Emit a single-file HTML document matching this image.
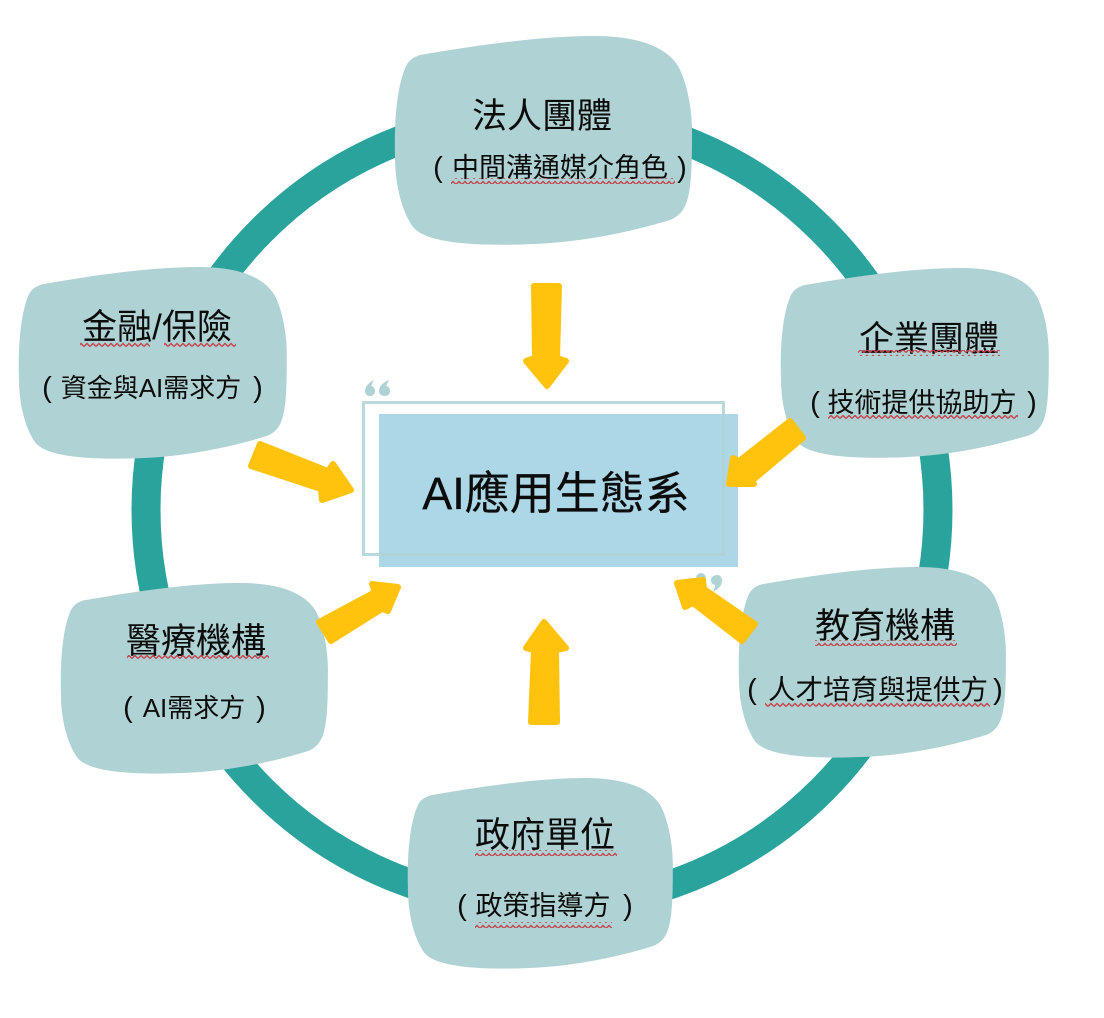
<!DOCTYPE html>
<html lang="zh-Hant">
<head>
<meta charset="utf-8">
<title>AI應用生態系</title>
<style>
html,body{margin:0;padding:0;background:#fff;width:1104px;height:1018px;overflow:hidden}
svg{display:block}
text{font-family:"Liberation Sans","Noto Sans CJK TC","Noto Sans CJK JP",sans-serif;fill:#0c0c0c;text-anchor:middle}
.t{font-size:35px}
.s{font-size:27px}
.p{font-size:29px}
.c{font-size:45px;stroke:#0c0c0c;stroke-width:.25}
.a{fill:#FFC30E;stroke:#FFC30E;stroke-width:6;stroke-linejoin:round}
</style>
</head>
<body>
<svg width="1104" height="1018" viewBox="0 0 1104 1018" xmlns="http://www.w3.org/2000/svg">
<defs>
<path id="b" d="M26,19 C90,8 150,0 200,0 C240,0 271,9 284,30 C292,44 298,70 298,95 C298,120 298,150 293,165 C290,175 284,181 276,184 C240,195 190,206 140,208 C70,211 30,205 19,191 C8,175 1,150 1,120 C0,85 3,50 12,30 C15,24 20,21 26,19 Z"/>
<pattern id="w" width="6" height="6" patternUnits="userSpaceOnUse">
<path d="M0,4.500 L3,1.500 L6,4.500" fill="none" stroke="#c4434c" stroke-width="1.400"/>
</pattern>
</defs>
<rect width="1104" height="1018" fill="#fff"/>
<circle cx="542" cy="510" r="396" fill="none" stroke="#2AA39C" stroke-width="29"/>

<g fill="#AFD2D4">
<use href="#b" transform="translate(394,36)"/>
<use href="#b" transform="translate(780,268) scale(.902,.909)"/>
<use href="#b" transform="translate(18,267) scale(.902,.918)"/>
<use href="#b" transform="translate(60,583) scale(.899,.913)"/>
<use href="#b" transform="translate(738,567) scale(.899,.913)"/>
<use href="#b" transform="translate(407,778) scale(.892,.913)"/>
</g>

<g fill="#AFD2D4">
<path d="M374,380 C370,382 365,386 365,391 C365,394 367,396 370,396 C373,396 375,394 375,391 C375,388 373,386 371,386 C372,384 373,382 374,380 Z"/>
<path d="M389,380 C384,382 379,386 379,391 C379,394 381,396 385,396 C388,396 390,394 390,391 C390,388 388,386 386,386 C387,384 388,382 389,380 Z"/>
<path d="M713,592 C717,590 722,586 722,581 C722,577 720,575 717,575 C714,575 711,577 711,580 C711,583 713,585 715,585 C715,587 714,590 713,592 Z"/>
<circle cx="701" cy="578" r="5"/>
</g>
<rect x="379" y="414" width="359" height="153" fill="#ABD7E6"/>
<rect x="363.500" y="402.500" width="360" height="152" fill="none" stroke="#AFD2D4" stroke-width="3" opacity=".85"/>

<polygon class="a" points="534,286 559,286 557,358 566,361 547,386 526,361 535,358"/>
<polygon class="a" points="544,622 566,648 556,650 557,722 531,722 534,650 526,648"/>
<polygon class="a" points="260,444 251,466 321,489 322,500 351,490 333,464 328,471"/>
<polygon class="a" points="790,421 803,438 753,480 754,484 729,484 733,458 739,461"/>
<polygon class="a" points="677,583 703,580 704,589 755,624 742,641 693,603 685,607"/>
<polygon class="a" points="319,622 331,641 382,609 388,611 398,587 372,584 375,592"/>

<text class="c" x="556" y="509">AI應用生態系</text>

<text class="t" x="542" y="128">法人團體</text>
<text class="p" x="438" y="177">(</text>
<text class="s" x="560" y="177">中間溝通媒介角色</text>
<text class="p" x="682" y="177">)</text>
<rect x="451" y="178" width="224" height="6" fill="url(#w)"/>

<text class="t" x="929" y="351">企業團體</text>
<rect x="858" y="350" width="142" height="6" fill="url(#w)"/>
<text class="p" x="815" y="412">(</text>
<text class="s" x="922" y="412">技術提供協助方</text>
<text class="p" x="1032" y="412">)</text>
<rect x="828" y="415" width="190" height="6" fill="url(#w)"/>

<text class="t" x="157" y="339">金融/保險</text>
<rect x="80" y="341" width="70" height="6" fill="url(#w)"/>
<rect x="164" y="341" width="72" height="6" fill="url(#w)"/>
<text class="p" x="47" y="397">(</text>
<text class="s" x="151" y="397" style="font-size:26px">資金與AI需求方</text>
<text class="p" x="258" y="397">)</text>

<text class="t" x="196" y="653">醫療機構</text>
<rect x="127" y="655" width="142" height="6" fill="url(#w)"/>
<text class="p" x="128" y="717">(</text>
<text class="s" x="194" y="717" style="font-size:26px">AI需求方</text>
<text class="p" x="261" y="717">)</text>

<text class="t" x="885" y="638">教育機構</text>
<rect x="815" y="640" width="142" height="6" fill="url(#w)"/>
<text class="p" x="752" y="699">(</text>
<text class="s" x="878" y="699" style="font-size:27.500px">人才培育與提供方</text>
<text class="p" x="998" y="699">)</text>
<rect x="765" y="701" width="225" height="6" fill="url(#w)"/>

<text class="t" x="545" y="847">政府單位</text>
<rect x="475" y="850" width="142" height="6" fill="url(#w)"/>
<text class="p" x="462" y="915">(</text>
<text class="s" x="543" y="915">政策指導方</text>
<text class="p" x="628" y="915">)</text>
<rect x="475" y="922" width="137" height="6" fill="url(#w)"/>
</svg>
</body>
</html>
